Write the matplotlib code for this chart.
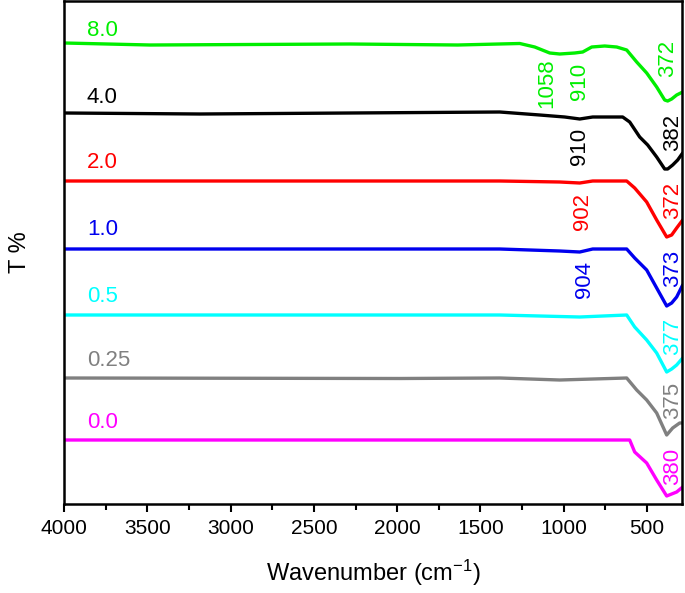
import matplotlib
matplotlib.use("Agg")
import matplotlib.pyplot as plt
from matplotlib.ticker import MultipleLocator

plt.rcParams['font.family'] = ['Liberation Sans', 'DejaVu Sans']
plt.rcParams['mathtext.fontset'] = 'custom'
plt.rcParams['mathtext.rm'] = 'Liberation Sans'
plt.rcParams['mathtext.it'] = 'Liberation Sans'
plt.rcParams['mathtext.default'] = 'regular'

# ---- data (wavenumber in cm^-1, transmittance in offset arbitrary units) ----
labels = ["8.0", "4.0", "2.0", "1.0", "0.5", "0.25", "0.0"]
colors = ["#00ee00", "#000000", "#ff0000", "#0000ee", "#00ffff", "#808080", "#ff00ff"]

wn_80 = [4000, 3484, 2884, 2284, 1636, 1264, 1174, 1084, 1024, 934, 886, 832, 754, 682, 622, 562, 502, 442, 394, 376, 352, 322, 286]
t_80 = [461, 459, 459.5, 460, 459, 460.5, 457, 451, 450, 451, 452, 457, 458, 457, 454, 442, 431, 417, 404, 403, 405, 409, 412]

wn_40 = [4000, 3184, 2284, 1384, 1144, 994, 904, 826, 646, 604, 544, 496, 442, 394, 376, 346, 316, 286]
t_40 = [391, 390, 391, 392, 389, 387, 385, 387, 387, 382, 367, 359, 347, 335, 335, 339, 344, 351]

wn_20 = [4000, 1384, 1024, 904, 826, 622, 574, 502, 442, 382, 352, 322, 286]
t_20 = [323, 323, 322, 321, 323, 323, 316, 302, 284, 267, 269, 276, 284]

wn_10 = [4000, 1384, 1024, 904, 826, 622, 574, 502, 442, 382, 352, 322, 286]
t_10 = [255, 255, 253, 252, 255, 255, 246, 234, 216, 198, 201, 207, 219]

wn_05 = [4000, 1384, 904, 622, 574, 502, 442, 382, 352, 322, 286]
t_05 = [189, 189, 187, 189, 177, 164, 151, 132, 135, 139, 146]

wn_025 = [4000, 1984, 1384, 1024, 622, 562, 502, 442, 382, 346, 304, 286]
t_025 = [126, 125.5, 126, 124, 126, 114, 104, 91, 69, 76, 81, 81]

wn_00 = [4000, 604, 574, 502, 442, 382, 352, 322, 286]
t_00 = [64, 64, 52, 41, 24, 8, 10, 12, 17]

series_wn = [wn_80, wn_40, wn_20, wn_10, wn_05, wn_025, wn_00]
series_t = [t_80, t_40, t_20, t_10, t_05, t_025, t_00]

# peak annotations: (text, series index)
peak_texts = ["1058", "910", "372", "910", "382", "902", "372", "904", "373", "377", "375", "380"]
peak_series = [0, 0, 0, 1, 1, 2, 2, 3, 3, 4, 5, 6]
peak_x = [1102, 904, 376, 904, 346, 886, 346, 874, 346, 346, 346, 346]
peak_y = [421, 423, 446, 358, 372, 293, 304, 224, 236, 168, 104, 38]

label_y = [473, 407, 342, 275, 207, 143, 82]

fig = plt.figure(figsize=(6.85, 5.93), dpi=100)
ax = fig.add_axes([64/685, 1 - 504/593, (682-64)/685, (504-1)/593])

for wn, t, c in zip(series_wn, series_t, colors):
    ax.plot(wn, t, color=c, lw=2.4, solid_joinstyle='round', solid_capstyle='round')

for lab, y, c in zip(labels, label_y, colors):
    ax.text(3862, y, lab, color=c, fontsize=16, ha='left', va='center')

for txt, si, x, y in zip(peak_texts, peak_series, peak_x, peak_y):
    ax.text(x, y, txt, color=colors[si], fontsize=16, rotation=90, ha='center', va='center')

ax.set_xlim(4000, 290)
ax.set_ylim(0, 503)
ax.xaxis.set_major_locator(MultipleLocator(500))
ax.xaxis.set_minor_locator(MultipleLocator(250))
ax.tick_params(axis='x', which='major', direction='out', length=6, width=1.5, labelsize=15, pad=5)
ax.tick_params(axis='x', which='minor', direction='out', length=4, width=1.5)
ax.set_yticks([])
for s in ax.spines.values():
    s.set_linewidth(1.8)

ax.set_xlabel("Wavenumber (cm$^{-1}$)", fontsize=17, labelpad=14)
ax.set_ylabel("T %", fontsize=17, labelpad=24)

fig.savefig("out.png", dpi=100)
